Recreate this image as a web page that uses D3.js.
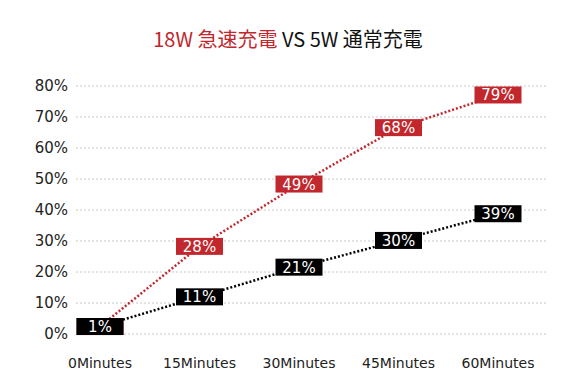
<!DOCTYPE html>
<html>
<head>
<meta charset="utf-8">
<script src="https://cdn.jsdelivr.net/npm/d3@7"></script>
<style>
body { margin: 0; background: #fff; }
text { font-family: "DejaVu Sans", sans-serif; }
</style>
</head>
<body>
<script>
var minutes = ['0Minutes', '15Minutes', '30Minutes', '45Minutes', '60Minutes'];
var fast = [1, 28, 49, 68, 79];    // 18W
var normal = [1, 11, 21, 30, 39];  // 5W
var yTicks = [0, 10, 20, 30, 40, 50, 60, 70, 80];

var width = 580, height = 390;
var red = '#c1272d';
var boxW = 47, boxH = 17;

var svg = d3.select('body').append('svg')
	.attr('width', width)
	.attr('height', height);

var x = d3.scalePoint().domain(minutes).range([100, 498]);
var y = d3.scaleLinear().domain([0, 80]).range([334, 86]);
// the value boxes sit a little off the grid in the original
var yBox = d3.scaleLinear().domain([0, 80]).range([329.5, 92]);

// title
var title = svg.append('text')
	.attr('x', 288)
	.attr('y', 47)
	.attr('text-anchor', 'middle')
	.style('font-size', '20px')
	.style('font-family', '"Noto Sans CJK JP", sans-serif');
title.append('tspan').attr('fill', red).text('18W 急速充電 ');
title.append('tspan').attr('fill', '#111').text('VS 5W 通常充電');

// grid lines
svg.append('g').selectAll('line')
	.data(yTicks)
	.enter()
	.append('line')
	.attr('x1', 76)
	.attr('x2', 548)
	.attr('y1', function(d) { return y(d); })
	.attr('y2', function(d) { return y(d); })
	.attr('stroke', '#c8c8c8')
	.attr('stroke-dasharray', '2,2');

// y labels
svg.append('g').selectAll('text')
	.data(yTicks)
	.enter()
	.append('text')
	.attr('x', 68)
	.attr('y', function(d) { return y(d) + 5; })
	.attr('text-anchor', 'end')
	.style('font-size', '15px')
	.attr('fill', '#222')
	.text(function(d) { return d + '%'; });

// x labels
svg.append('g').selectAll('text')
	.data(minutes)
	.enter()
	.append('text')
	.attr('x', function(d) { return x(d); })
	.attr('y', 368)
	.attr('text-anchor', 'middle')
	.style('font-size', '14px')
	.attr('fill', '#222')
	.text(function(d) { return d; });

function drawSeries(values, color) {
	var line = d3.line()
		.x(function(d, i) { return x(minutes[i]); })
		.y(function(d) { return yBox(d); });

	svg.append('path')
		.datum(values)
		.attr('d', line)
		.attr('fill', 'none')
		.attr('stroke', color)
		.attr('stroke-width', 2.5)
		.attr('stroke-dasharray', '2,2');

	var g = svg.append('g').selectAll('g')
		.data(values)
		.enter()
		.append('g')
		.attr('transform', function(d, i) {
			return 'translate(' + x(minutes[i]) + ',' + yBox(d) + ')';
		});

	g.append('rect')
		.attr('x', -boxW / 2)
		.attr('y', -boxH / 2)
		.attr('width', boxW)
		.attr('height', boxH)
		.attr('fill', color);

	g.append('text')
		.attr('y', 5.5)
		.attr('text-anchor', 'middle')
		.attr('fill', '#fff')
		.style('font-size', '15px')
		.text(function(d) { return d + '%'; });
}

drawSeries(fast, red);
drawSeries(normal, '#000');
</script>
</body>
</html>
